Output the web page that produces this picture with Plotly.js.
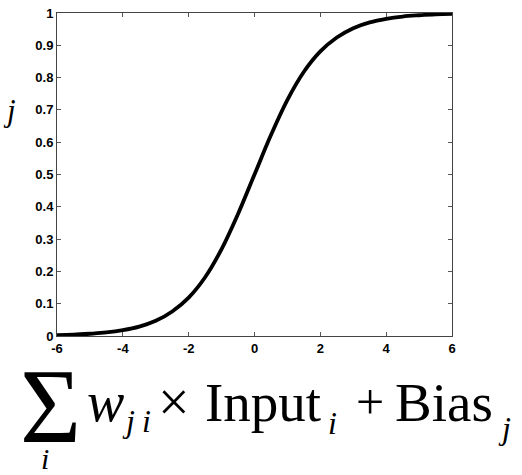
<!DOCTYPE html>
<html>
<head>
<meta charset="utf-8">
<script src="https://cdn.plot.ly/plotly-3.0.1.min.js"></script>
<style>
  html, body { margin: 0; padding: 0; background: #ffffff; }
  #chart { width: 522px; height: 475px; }
</style>
</head>
<body>
<div id="chart"></div>
<script>
// Logistic activation: net input (x) against neuron output (y)
const netInput = [-6, -5.5, -5, -4.5, -4, -3.5, -3, -2.5, -2, -1.5, -1, -0.5,
                  0, 0.5, 1, 1.5, 2, 2.5, 3, 3.5, 4, 4.5, 5, 5.5, 6];
const output = [0.003, 0.004, 0.007, 0.011, 0.018, 0.029, 0.047, 0.076, 0.119,
                0.182, 0.269, 0.378, 0.5, 0.622, 0.731, 0.818, 0.881, 0.924,
                0.953, 0.971, 0.982, 0.989, 0.993, 0.996, 0.997];

const xTicks = [-6, -4, -2, 0, 2, 4, 6];
const yTicks = [0, 0.1, 0.2, 0.3, 0.4, 0.5, 0.6, 0.7, 0.8, 0.9, 1];
const yTickText = ['0', '0.1', '0.2', '0.3', '0.4', '0.5', '0.6', '0.7', '0.8', '0.9', '1'];

const serif = 'Liberation Serif, Times New Roman, serif';
const tickFont = { family: 'Liberation Sans, Arial, sans-serif', size: 13, color: '#000000', weight: 'bold' };

// Pieces of the weighted-sum formula written under the axis
function piece(text, x, y, size, italic, anchor) {
  return {
    xref: 'paper', yref: 'paper', x: x, y: y,
    xanchor: anchor || 'left', yanchor: 'middle',
    text: text, showarrow: false, borderpad: 0,
    font: { family: serif, size: size, color: '#000000', style: italic ? 'italic' : 'normal' }
  };
}

const annotations = [
  piece('j', -0.121, 0.698, 31, true, 'center'),
  piece('\u03A3', -0.0957, -0.218, 105, false, 'left'),
  piece('i', -0.0297, -0.38, 30, true, 'center'),
  piece('w', 0.0744, -0.2034, 56, true, 'left'),
  piece('j', 0.181, -0.262, 32, true, 'center'),
  piece('i', 0.2266, -0.262, 32, true, 'center'),
  piece('\u00D7', 0.2952, -0.2034, 56, false, 'center'),
  piece('Input', 0.3713, -0.2047, 55, false, 'left'),
  piece('i', 0.6975, -0.269, 32, true, 'center'),
  piece('+', 0.7926, -0.2034, 50, false, 'center'),
  piece('Bias', 0.852, -0.2047, 55, false, 'left'),
  piece('j', 1.1327, -0.2845, 32, true, 'center')
];

const trace = {
  x: netInput, y: output, type: 'scatter', mode: 'lines',
  line: { color: '#000000', width: 3.8, shape: 'spline', smoothing: 1 },
  hoverinfo: 'skip'
};

const axisCommon = {
  showgrid: false, zeroline: false,
  showline: true, linecolor: '#444444', linewidth: 1, mirror: 'ticks',
  ticks: 'inside', ticklen: 4, tickcolor: '#555555', tickwidth: 1,
  tickfont: tickFont
};

const layout = {
  width: 522, height: 475,
  margin: { l: 57, r: 70, t: 13, b: 139 },
  paper_bgcolor: '#ffffff', plot_bgcolor: '#ffffff',
  showlegend: false,
  xaxis: Object.assign({}, axisCommon, {
    range: [-6, 6], tickvals: xTicks, ticktext: xTicks.map(String)
  }),
  yaxis: Object.assign({}, axisCommon, {
    range: [0, 1], tickvals: yTicks, ticktext: yTickText
  }),
  annotations: annotations
};

Plotly.newPlot('chart', [trace], layout, { staticPlot: true, displayModeBar: false });
</script>
</body>
</html>
